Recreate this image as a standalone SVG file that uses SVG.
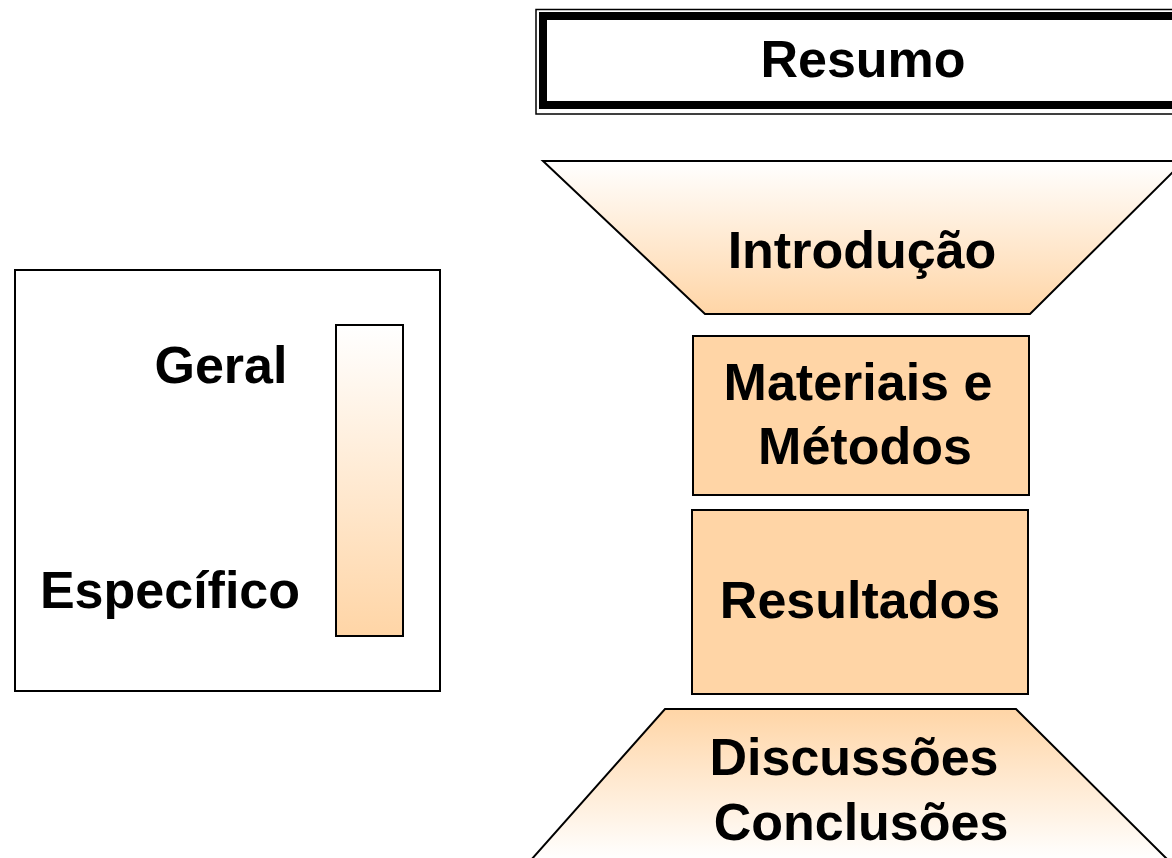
<svg xmlns="http://www.w3.org/2000/svg" width="1172" height="858" viewBox="0 0 1172 858">
<defs>
<linearGradient id="down" x1="0" y1="0" x2="0" y2="1">
<stop offset="0" stop-color="#FFFFFF"/>
<stop offset="1" stop-color="#FFD5A6"/>
</linearGradient>
<linearGradient id="up" x1="0" y1="0" x2="0" y2="1">
<stop offset="0" stop-color="#FFD5A6"/>
<stop offset="1" stop-color="#FFFFFF"/>
</linearGradient>
<style>
text{font-family:"Liberation Sans",Arial,sans-serif;font-weight:bold;font-size:52px;fill:#000;text-anchor:middle}
.s{stroke:#000;stroke-width:2}
</style>
</defs>
<rect width="1172" height="858" fill="#fff"/>
<g id="legend">
<rect x="15" y="270" width="425" height="421" fill="#fff" class="s"/>
<rect x="336" y="325" width="67" height="311" fill="url(#down)" class="s"/>
<text x="221" y="383">Geral</text>
<text x="170" y="608">Específico</text>
</g>
<g id="resumo">
<rect x="536" y="9.5" width="660" height="104.5" fill="#fff" stroke="#000" stroke-width="1.5"/>
<rect x="543" y="16" width="660" height="89" fill="#fff" stroke="#000" stroke-width="8"/>
<text x="863" y="77">Resumo</text>
</g>
<g id="introducao">
<polygon points="543,161 1184,161 1030,314 705,314" fill="url(#down)" class="s"/>
<text x="862" y="268">Introdução</text>
</g>
<g id="materiais">
<rect x="693" y="336" width="336" height="159" fill="#FFD5A6" class="s"/>
<text x="858" y="400">Materiais e</text>
<text x="865" y="464">Métodos</text>
</g>
<g id="resultados">
<rect x="692" y="510" width="336" height="184" fill="#FFD5A6" class="s"/>
<text x="860" y="618">Resultados</text>
</g>
<g id="discussoes">
<polygon points="665,709 1016,709 1168,860 531,860" fill="url(#up)" class="s"/>
<text x="854" y="775">Discussões</text>
<text x="861" y="840">Conclusões</text>
</g>
<g id="connectors"/>
</svg>
